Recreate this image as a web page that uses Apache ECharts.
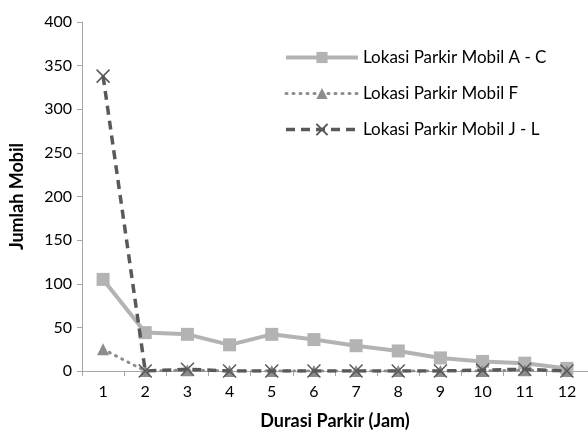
<!DOCTYPE html>
<html><head><meta charset="utf-8">
<script src="https://cdn.jsdelivr.net/npm/echarts@6/dist/echarts.min.js"></script>
<style>html,body{margin:0;padding:0;background:#fff}#c{width:588px;height:432px}</style>
</head><body><div id="c"></div>
<script>
const categories = ['1','2','3','4','5','6','7','8','9','10','11','12'];
const seriesNames = ['Lokasi Parkir Mobil A - C','Lokasi Parkir Mobil F','Lokasi Parkir Mobil J - L'];
const valuesAC = [105, 44, 42, 30, 42, 36, 29, 23, 15, 11, 9, 3];
const valuesF  = [25, 0, 1, 0, 0, 0, 0, 0, 0, 0, 1, 0];
const valuesJL = [338, 0, 2, 0, 0, 0, 0, 0, 0, 1, 2, 0];
const yTicks = { min: 0, max: 400, interval: 50 };

const font = 'Lato, "Open Sans", sans-serif';
const chart = echarts.init(document.getElementById('c'));
chart.setOption({
  animation: false,
  grid: { left: 82, right: 0, top: 22, bottom: 61, containLabel: false, outerBoundsMode: 'none' },
  legend: {
    orient: 'vertical', left: 279, top: 44, itemGap: 19,
    itemWidth: 72, itemHeight: 14,
    textStyle: { fontFamily: font, fontSize: 17, color: '#000' },
    data: [
      { name: seriesNames[0], lineStyle: { width: 4, color: '#b3b3b3' } },
      { name: seriesNames[1], lineStyle: { width: 3, color: '#8c8c8c', type: [1, 6], cap: 'round' } },
      { name: seriesNames[2], lineStyle: { width: 3.5, color: '#595959', type: [9, 6] } }
    ]
  },
  xAxis: {
    type: 'category', data: categories, boundaryGap: true,
    name: 'Durasi Parkir (Jam)', nameLocation: 'middle', nameGap: 41,
    nameTextStyle: { fontFamily: font, fontSize: 18, fontWeight: 'bold', color: '#000' },
    axisLine: { lineStyle: { color: '#a6a6a6', width: 1 } },
    axisTick: { show: true, length: 5, lineStyle: { color: '#a6a6a6' } },
    axisLabel: { fontFamily: font, fontSize: 16, color: '#000', margin: 13 }
  },
  yAxis: {
    type: 'value', min: yTicks.min, max: yTicks.max, interval: yTicks.interval,
    name: 'Jumlah Mobil', nameLocation: 'middle', nameGap: 56,
    nameTextStyle: { fontFamily: font, fontSize: 18, fontWeight: 'bold', color: '#000' },
    axisLine: { show: true, lineStyle: { color: '#a6a6a6', width: 1 } },
    axisTick: { show: true, length: 5, lineStyle: { color: '#a6a6a6' } },
    splitLine: { show: false },
    axisLabel: { fontFamily: font, fontSize: 16, color: '#000', margin: 10 }
  },
  series: [
    {
      name: seriesNames[0], type: 'line', data: valuesAC,
      symbol: 'rect', symbolSize: 13,
      lineStyle: { color: '#b3b3b3', width: 4 },
      itemStyle: { color: '#b3b3b3' }, z: 2
    },
    {
      name: seriesNames[1], type: 'line', data: valuesF,
      symbol: 'triangle', symbolSize: 12,
      lineStyle: { color: '#8c8c8c', width: 3, type: [1, 6], cap: 'round' },
      itemStyle: { color: '#8c8c8c' }, z: 3
    },
    {
      name: seriesNames[2], type: 'line', data: valuesJL,
      symbol: 'path://M0,0L10,10M10,0L0,10', symbolSize: 13,
      lineStyle: { color: '#595959', width: 3.5, type: [9, 6] },
      itemStyle: { color: 'none', borderColor: '#595959', borderWidth: 1.5 }, z: 4
    }
  ]
});
</script></body></html>
